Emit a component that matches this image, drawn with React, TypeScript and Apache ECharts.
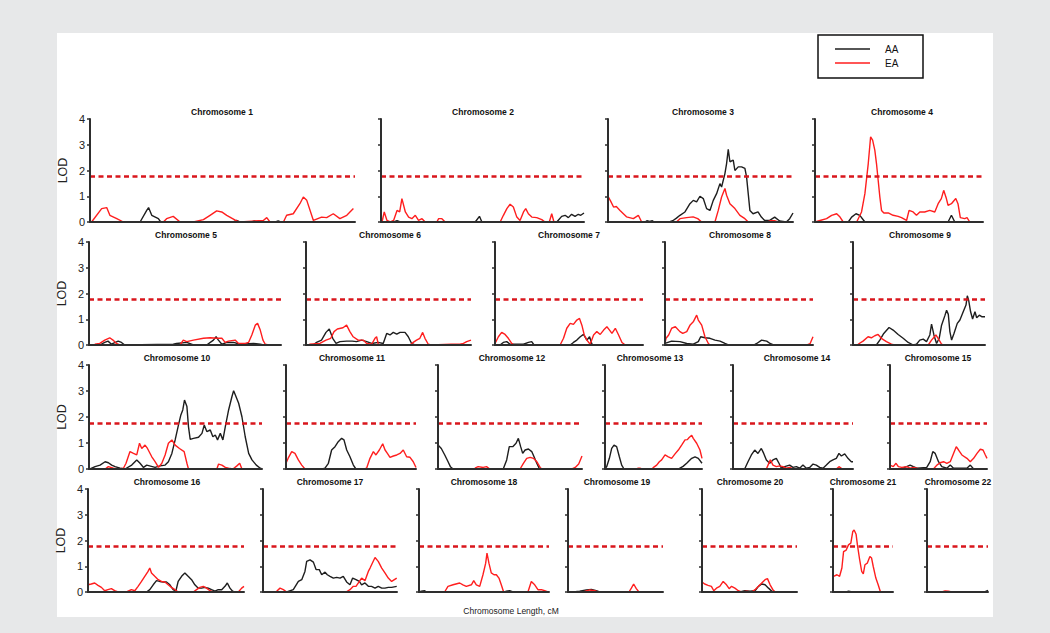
import React, { useEffect, useRef } from 'react';
import * as echarts from 'echarts';

// ---------- DATA (position along chromosome as % of its length, LOD) ----------
const CHROMOSOMES = [
  'Chromosome 1', 'Chromosome 2', 'Chromosome 3', 'Chromosome 4', 'Chromosome 5', 'Chromosome 6',
  'Chromosome 7', 'Chromosome 8', 'Chromosome 9', 'Chromosome 10', 'Chromosome 11', 'Chromosome 12',
  'Chromosome 13', 'Chromosome 14', 'Chromosome 15', 'Chromosome 16', 'Chromosome 17', 'Chromosome 18',
  'Chromosome 19', 'Chromosome 20', 'Chromosome 21', 'Chromosome 22',
];
const SERIES_NAMES = ['AA', 'EA'];
const THRESHOLD = 1.77;
const Y_TICKS = [0, 1, 2, 3, 4];
const X_LABEL = 'Chromosome Length, cM';
const Y_LABEL = 'LOD';

const chr1AA = [[18.9,0],[21.4,0.45],[22.1,0.56],[23.3,0.26],[25.8,0.13],[26.7,0],[54,0],[55.3,0.06],[56.5,0],[61,0],[62,0.04],[63,0],[70,0],[71,0.04],[72,0]];
const chr1EA = [[0.6,0],[4.4,0.52],[6.3,0.56],[7.5,0.26],[10.1,0.13],[12.6,0],[27.7,0],[28.9,0.13],[31.4,0.22],[34,0],[39,0],[42.8,0.09],[45.3,0.26],[47.8,0.43],[49.7,0.39],[51.6,0.26],[55.3,0.04],[56.6,0],[65.4,0.06],[66.7,0.17],[67.9,0],[73,0],[74.2,0.26],[76.7,0.32],[79.2,0.71],[80.5,0.97],[81.8,0.84],[84.3,0.06],[87.4,0.19],[89.3,0.17],[91.8,0.32],[94.3,0.13],[96.9,0.26],[99.4,0.52]];

const chr2AA = [[6.2,0],[7.9,0.05],[9.5,0],[46.4,0],[48.5,0.22],[49.7,0],[86.6,0],[89,0.22],[90.7,0.26],[92.3,0.17],[93.9,0.3],[95.6,0.22],[97.2,0.3],[98.4,0.26],[100,0.35]];
const chr2EA = [[0.5,0],[1.6,0.39],[2.95,0.06],[4.6,0],[6.2,0.06],[7.9,0.45],[9.2,0.39],[10.3,0.91],[12,0.39],[13.6,0.19],[15.2,0.13],[16.9,0.26],[18.5,0.06],[20.2,0.13],[21.8,0],[27.5,0],[28.4,0.13],[30,0.13],[31.6,0],[58.7,0],[60.3,0.26],[62,0.52],[63.6,0.69],[65.2,0.58],[66.9,0.19],[68.5,0.06],[70.2,0.39],[71.3,0.52],[72.6,0.32],[74.3,0.19],[76.7,0.17],[79.2,0.09],[80.8,0],[82.9,0],[84.1,0.32],[85.2,0]];

const chr3AA = [[20,0],[21,0.05],[22.5,0.02],[24,0.05],[25,0],[33,0],[35,0.05],[37,0.15],[38.9,0.26],[41.6,0.39],[44.3,0.71],[46.1,0.84],[47.9,0.78],[49.7,1.0],[51.5,0.91],[53.3,0.52],[55.1,0.45],[56.9,0.84],[58.7,1.1],[60.5,1.49],[61.4,1.36],[63.2,1.88],[64.1,2.27],[65,2.82],[65.9,2.34],[67.7,2.4],[68.6,2.0],[70.4,2.14],[72.2,2.14],[74,2.08],[74.9,1.75],[75.8,1.1],[76.7,0.45],[78.4,0.32],[81.1,0.39],[82.9,0.19],[84.7,0.06],[87.4,0.06],[90.1,0.19],[92.8,0.04],[96.4,0],[98.2,0.13],[100,0.35]];
const chr3EA = [[0,1.0],[1.5,0.8],[3,0.58],[4.5,0.6],[6.5,0.45],[10,0.2],[13.7,0.13],[16.4,0.26],[18.2,0],[37,0],[38.9,0.13],[42.5,0.17],[46,0.2],[48.5,0.13],[50.6,0],[57.8,0],[59.6,0.45],[61.4,0.97],[63.2,1.3],[64.1,1.04],[65.9,0.71],[68.6,0.52],[71.3,0.26],[74,0.13],[75.8,0],[86,0],[88,0.05],[90,0.05],[92,0]];

const chr4AA = [[19.8,0],[21.8,0.19],[24.4,0.32],[26.7,0.26],[29.7,0],[79.2,0],[81.2,0.26],[83.2,0]];
const chr4EA = [[0,0],[3,0.06],[6.9,0.13],[9.9,0.26],[12.9,0.32],[14.9,0.19],[16.8,0],[24.8,0],[27.7,0.39],[29.7,1.1],[31.7,2.27],[33.1,3.31],[34.3,3.18],[35.6,2.79],[36.6,2.27],[37.6,1.62],[38.6,0.97],[39.6,0.45],[41,0.35],[43.6,0.35],[46.5,0.26],[49.5,0.22],[51.5,0.17],[54.5,0.06],[56,0.45],[58.4,0.39],[60.4,0.26],[62.4,0.39],[65.3,0.39],[68.3,0.45],[71.3,0.39],[73.3,0.71],[75.2,0.91],[76.6,1.23],[78.2,0.91],[79.2,0.65],[81.2,0.71],[83.8,0.91],[85.1,0.71],[86.5,0.17],[89.1,0.13],[90.5,0.17],[92.1,0]];

const chr5AA = [[5.6,0],[8.2,0.1],[9.9,0.15],[11.7,0.03],[15.2,0.15],[16.9,0.1],[18.6,0],[43.9,0.03],[45.6,0.06],[50.9,0.1],[54.4,0],[61.3,0],[64.8,0.19],[66.2,0.32],[67.4,0.19],[69.2,0.03],[71.8,0.1],[75.3,0.1],[78.7,0.03],[85.7,0.06],[89.2,0.03],[91,0]];
const chr5EA = [[3,0.03],[5.6,0.06],[8.2,0.19],[10.8,0.28],[12.5,0.19],[14.3,0.06],[16,0],[47.4,0],[49.1,0.19],[50.9,0.13],[54.4,0.19],[59.6,0.26],[63.1,0.28],[66.6,0.26],[69.2,0.26],[70.9,0.1],[72.6,0.15],[76.1,0.19],[77.9,0.06],[81.4,0.06],[83.1,0.1],[84.8,0.39],[86.6,0.77],[87.8,0.84],[89.2,0.58],[90.6,0.19],[91.8,0.03],[93.6,0]];

const chr6AA = [[0,0],[4.4,0],[6.4,0.1],[9.4,0.19],[12.1,0.49],[14.1,0.62],[16.2,0.26],[18.2,0.06],[20.6,0.13],[24.6,0.15],[28,0.15],[30.6,0.13],[33.7,0.19],[36.8,0.13],[39.8,0.06],[43.8,0.1],[46.8,0.06],[48.9,0.45],[50.9,0.39],[52.9,0.49],[55,0.42],[57,0.49],[60,0.49],[62,0.32],[64,0.06],[66,0]];
const chr6EA = [[2,0.03],[8.4,0.06],[12.1,0.19],[15,0.26],[17,0.52],[19,0.62],[22.4,0.67],[24.6,0.77],[26.6,0.52],[28.6,0.32],[31.6,0.19],[34.7,0.19],[36.8,0.06],[39.8,0.03],[41.8,0.26],[42.8,0.32],[43.8,0.03],[45,0],[63,0],[65,0.1],[67,0.19],[69,0.26],[70.7,0.49],[72.1,0.26],[74.1,0.03],[76,0],[88,0.03],[93.3,0.03],[95.4,0.06],[97.4,0.13],[100,0.19]];

const chr7AA = [[3.4,0],[5.6,0.1],[7.9,0.13],[10.2,0.03],[19.2,0.03],[22.6,0.1],[24.8,0.13],[26.4,0],[50.8,0],[53,0.1],[55.3,0.19],[57.6,0.32],[59.8,0.41],[62.1,0.19],[63.9,0.32],[65.5,0.03],[66.6,0]];
const chr7EA = [[0,0.06],[2.3,0.32],[4.5,0.49],[6.8,0.41],[9,0.26],[11.3,0.06],[12.9,0],[44,0],[46.3,0.26],[48.5,0.65],[50.8,0.84],[53,0.8],[55.3,0.97],[57.1,1.03],[58.7,0.77],[60.3,0.39],[62.1,0.19],[64.3,0.03],[66.6,0.39],[68.8,0.52],[71.1,0.41],[73.4,0.58],[75.6,0.71],[77.4,0.58],[79,0.45],[81.3,0.65],[83.5,0.39],[85.8,0.1],[88,0]];

const chr8AA = [[0,0.06],[4.5,0.15],[10.1,0.13],[14.7,0.06],[19.1,0.03],[22.5,0.13],[24.1,0.32],[27,0.28],[30.4,0.26],[33.8,0.19],[37.2,0.15],[40.5,0.06],[42.8,0],[60,0],[62,0.06],[65.3,0.19],[68.7,0.15],[71,0.06],[73.2,0]];
const chr8EA = [[0,0.06],[0.7,0.26],[2.5,0.39],[4.5,0.65],[7,0.71],[10.1,0.52],[12,0.45],[14.7,0.52],[17,0.78],[19.1,0.9],[21.4,1.16],[22.5,0.97],[24.8,0.77],[27,0.32],[29.3,0.06],[30.4,0],[96,0],[98,0.05],[100,0.32]];

const chr9AA = [[17.7,0],[20.3,0.19],[23.3,0.45],[27.3,0.68],[30.4,0.58],[34.2,0.41],[38,0.26],[41.8,0.1],[45.6,0],[48.1,0.03],[50.6,0.19],[53.2,0.23],[55.7,0.13],[58.2,0.39],[59.5,0.81],[61.3,0.39],[63.3,0.06],[65.3,0.26],[67.1,0.77],[69.6,1.14],[70.9,1.35],[72.2,1.19],[73.4,0.52],[74.7,0.19],[76.5,0.45],[79,0.84],[81,0.97],[83.5,1.29],[85.6,1.55],[86.6,1.91],[87.6,1.74],[89.1,1.29],[90.6,1.01],[92.4,1.29],[93.7,1.06],[95.7,1.16],[97.5,1.1],[100,1.1]];
const chr9EA = [[3.8,0.03],[7.6,0.15],[11.4,0.32],[13.9,0.28],[16.5,0.36],[19,0.41],[21.5,0.26],[25.3,0.13],[29.1,0.03],[31.6,0],[57,0],[59.5,0.19],[62.8,0.39],[65.3,0.19],[67.1,0.03],[68.4,0]];

const chr10AA = [[0.6,0],[3.5,0.09],[6.4,0.15],[9.3,0.28],[11.2,0.24],[13.1,0.15],[15.1,0.09],[18,0.03],[20.8,0],[24.7,0.15],[27.6,0.35],[29.5,0.22],[31.5,0.06],[33.4,0.15],[38.2,0.06],[41.1,0.12],[44,0.15],[45.9,0.28],[47.9,0.6],[49.8,1.12],[51.7,1.69],[53.1,2.08],[54.2,2.27],[55.2,2.65],[56.6,2.4],[57.5,1.63],[58.5,1.14],[60.4,1.18],[63.3,1.22],[65.3,1.37],[66.6,1.69],[68.1,1.44],[70.1,1.5],[71.6,1.24],[73,1.31],[74.3,1.12],[75.9,1.37],[77.4,1.12],[78.8,1.63],[80.7,2.27],[82.6,2.78],[83.6,3.01],[84.6,2.85],[86.5,2.53],[88.4,2.01],[90.3,1.24],[92.3,0.6],[94.2,0.35],[96.7,0.15],[99,0.03],[100,0]];
const chr10EA = [[9.3,0],[11.2,0.09],[14.1,0.03],[17,0],[19.9,0.03],[21.4,0.22],[23.7,0.67],[25.7,0.6],[27.6,0.54],[29.2,0.99],[30.5,0.79],[32.4,0.92],[33.8,0.79],[36.3,0.47],[38.2,0.28],[40.2,0.06],[42.1,0.22],[44,0.54],[45.9,0.99],[47.9,1.12],[49.8,0.92],[52.3,0.79],[55,0.67],[56.6,0.22],[57.5,0],[73.9,0],[74.9,0.19],[76.8,0.15],[78.8,0.06],[80.7,0.03],[83.2,0],[85.5,0.12],[87.1,0.22],[88.4,0]];

const chr11AA = [[28,0],[30,0.03],[32.6,0.22],[35.1,0.73],[37.7,0.86],[40.2,1.05],[42.8,1.18],[44.6,1.12],[46.7,0.73],[49.2,0.47],[51.8,0.15],[53.8,0]];
const chr11EA = [[0,0.22],[2,0.45],[4.4,0.67],[6.9,0.6],[9.5,0.35],[12.1,0.15],[14.6,0],[60,0],[62,0.03],[64.6,0.41],[67.2,0.67],[69.2,0.54],[71.8,0.73],[74.4,0.97],[76.2,0.73],[78,0.6],[80,0.45],[82.6,0.5],[85.2,0.54],[87.7,0.6],[90.2,0.73],[92.8,0.47],[95.4,0.45],[97.9,0.28],[100,0.06]];

const chr12AA = [[0,0.92],[2.3,0.79],[4.7,0.54],[7,0.28],[8.6,0.09],[10.5,0],[45.3,0],[47.7,0.35],[49.5,0.86],[51.9,0.86],[54.2,0.99],[55.8,1.18],[57.4,0.86],[58.8,0.6],[60.5,0.73],[62.8,0.77],[65.1,0.67],[66.7,0.47],[68.6,0.22],[70.5,0]];
const chr12EA = [[25.6,0.03],[27.9,0.09],[31.4,0.06],[33.7,0.09],[36,0],[57,0],[59.3,0.22],[61.6,0.41],[64,0.45],[66.3,0.41],[68.6,0.28],[70.9,0.06],[72.1,0],[93,0],[95.3,0.06],[97.7,0.19],[100,0.5]];

const chr13AA = [[0,0],[1.7,0.09],[4.5,0.41],[6.9,0.79],[9.3,0.92],[12,0.86],[14.8,0.47],[17.2,0.15],[19.6,0],[76,0],[77.3,0.03],[80.5,0.1],[84.2,0.22],[89.4,0.41],[92.8,0.47],[96.2,0.41],[100,0.22]];
const chr13EA = [[32,0],[34.4,0.03],[36,0.03],[38,0],[48.1,0],[50,0.06],[53.3,0.15],[56,0.28],[58.4,0.35],[61.9,0.54],[65.3,0.47],[68.7,0.41],[72.2,0.58],[75.6,0.73],[79,0.92],[82.5,1.12],[84.9,1.13],[86.5,1.2],[89.4,1.3],[91,1.18],[94.5,0.99],[97.9,0.73],[100,0.41]];

const chr14AA = [[9.7,0],[12.5,0.28],[15.3,0.54],[18.1,0.73],[20.8,0.6],[23.6,0.79],[25.6,0.6],[27.8,0.35],[30.6,0.22],[33.3,0.35],[36.1,0.41],[38.3,0.22],[40.3,0.03],[43,0.09],[47.2,0.15],[50,0.06],[52.8,0.09],[55.6,0.03],[58.3,0.15],[61.1,0.03],[63.9,0.06],[66.7,0.19],[69.4,0.15],[72.2,0.06],[75,0.03],[77.8,0.15],[80.6,0.28],[83.3,0.35],[86.1,0.41],[88.3,0.6],[90.3,0.5],[93.1,0.58],[95.8,0.41],[98.6,0.28],[100,0.28]];
const chr14EA = [[27.8,0],[29.2,0.15],[31.1,0.35],[33.3,0.15],[36.1,0.09],[38.9,0.12],[41.7,0.09],[44.4,0.03],[47.2,0.06],[50,0],[86.1,0],[88.3,0.09],[91.1,0]];

const chr15AA = [[10.3,0],[17.2,0.09],[20.7,0.15],[24.1,0.09],[27.6,0.03],[37.9,0.06],[41.4,0.28],[44.1,0.67],[46.6,0.6],[50,0.28],[53.4,0.09],[58.6,0.03],[62.1,0.15],[65.5,0.03],[79.3,0.03],[82.8,0.15],[86.2,0]];
const chr15EA = [[0,0.15],[3.4,0.09],[6.2,0.22],[8.6,0.09],[12.1,0.06],[17.2,0.09],[20.7,0.03],[24.1,0.06],[27.6,0.03],[31,0],[44.8,0],[48.3,0.15],[51.7,0.24],[55.2,0.28],[58.6,0.22],[62.1,0.28],[65.5,0.6],[68.3,0.86],[70.7,0.73],[74.1,0.54],[79.3,0.41],[82.8,0.28],[86.2,0.41],[89.7,0.6],[93.1,0.76],[95.9,0.73],[98.3,0.54],[100,0.41]];

const chr16AA = [[37.5,0],[39.6,0.09],[41.8,0.28],[43.9,0.44],[46,0.41],[48.2,0.39],[50.3,0.39],[52.5,0.28],[54.6,0.09],[56.3,0.03],[57.8,0.41],[60,0.61],[62.1,0.74],[64.2,0.61],[66.4,0.48],[68.5,0.28],[70.7,0.15],[72.8,0.15],[75,0.18],[77.1,0.15],[79.2,0.09],[81.4,0.03],[83.5,0.09],[85.7,0.09],[87.8,0.22],[89.3,0.35],[91,0.15],[92.7,0.03],[94.2,0]];
const chr16EA = [[0,0.28],[2.1,0.31],[4.3,0.35],[6.4,0.26],[8.6,0.18],[10.7,0.05],[12.8,0.09],[15,0.13],[17.1,0.05],[19.3,0],[24.6,0],[27.8,0.09],[30,0.05],[32.1,0.22],[34.3,0.41],[36.4,0.61],[38.5,0.8],[39.6,0.93],[40.7,0.74],[42.8,0.61],[45,0.48],[47.1,0.41],[49.3,0.39],[51.4,0.28],[53.5,0.18],[55.7,0.09],[57.8,0],[67.5,0],[69.6,0.09],[71.7,0.18],[73.9,0.22],[76,0.15],[78.2,0.05],[80.3,0],[96.4,0],[98.5,0.15],[100,0.22]];

const chr17AA = [[15,0],[17.7,0],[22.6,0.09],[26.4,0.41],[28.9,0.48],[31.3,0.8],[32.6,1.19],[35.1,1.25],[37.6,1.16],[39.6,0.87],[42,0.87],[43.8,0.67],[46.3,0.77],[48,0.67],[50,0.61],[52.5,0.54],[55,0.57],[57.5,0.54],[59.9,0.61],[62.4,0.39],[64.9,0.28],[66.9,0.54],[69.4,0.48],[71.9,0.41],[73.6,0.28],[76.1,0.35],[78.6,0.22],[81,0.22],[83.6,0.15],[86,0.22],[88.6,0.15],[91,0.15],[93.5,0.18],[96,0.18],[99.8,0.22]];
const chr17EA = [[10.2,0.03],[12.7,0.15],[15.2,0.09],[17.7,0],[62,0],[64.9,0.09],[67.4,0.22],[69.4,0.22],[71.9,0.41],[73.6,0.54],[76.1,0.44],[78.6,0.8],[79.9,0.93],[83.6,1.34],[86,1.19],[88.6,0.93],[91,0.74],[93.5,0.54],[96,0.41],[99.8,0.54]];

const chr18AA = [[0.5,0],[1.8,0.03],[4.4,0.05],[5.6,0],[66,0],[67.2,0.03],[69.7,0.05],[72.3,0]];
const chr18EA = [[19.7,0],[22.3,0.22],[26.2,0.28],[31.3,0.35],[33.8,0.28],[36.4,0.22],[40.3,0.28],[42.1,0.44],[44.1,0.28],[46.7,0.22],[49.2,0.67],[51.3,1.12],[52.3,1.51],[53.8,1.12],[55.6,0.74],[57.7,0.67],[59.5,0.67],[61.5,0.54],[63.3,0.28],[65.1,0],[83.8,0],[86.4,0.41],[89,0.28],[91.5,0.09],[94.1,0.09],[96.7,0.05],[99.2,0]];

const chr19AA = [[5.3,0],[12.3,0.03],[19.3,0.08],[24.6,0.1],[29.8,0.05],[33.3,0]];
const chr19EA = [[15.8,0],[22.8,0.08],[28.1,0.05],[31.6,0],[64.2,0],[66.7,0.15],[69.1,0.31],[71.9,0.13],[74.7,0]];

const chr20AA = [[39.9,0],[45.2,0.05],[50.5,0.03],[55.8,0.05],[59.4,0.22],[62.9,0.31],[66.4,0.28],[70,0.15],[73.5,0.03],[77,0]];
const chr20EA = [[0,0.39],[2.8,0.31],[6.4,0.26],[9.9,0.22],[12.4,0.05],[15.2,0.15],[18.7,0.22],[22.3,0.41],[25.8,0.28],[28.6,0.13],[31.1,0.22],[34.6,0.15],[38.2,0.05],[41.7,0],[47,0.03],[52.3,0],[55.8,0.09],[59.4,0.22],[62.9,0.35],[66.4,0.48],[68.9,0.52],[71.7,0.28],[74.6,0.09],[77,0]];

const chr21AA = [[22,0],[26,0.03],[32,0]];
const chr21EA = [[0,0.55],[1.1,0.61],[6.6,0.67],[11,0.61],[14.8,0.93],[17.6,1.57],[22,1.63],[25.8,1.83],[29.7,1.9],[33,2.35],[35.2,2.41],[38.5,2.24],[40.7,1.83],[44,1.32],[47.8,0.8],[50.5,0.7],[53.3,1.06],[57.1,1.12],[61.5,1.38],[64.3,1.32],[67,1.0],[71.4,0.54],[75.3,0.28],[79.1,0]];

const chr22AA = [[94.6,0],[100,0.06]];
const chr22EA = [[24.3,0],[29.7,0.04],[35.1,0.03],[40.5,0]];

const AA_DATA = [chr1AA, chr2AA, chr3AA, chr4AA, chr5AA, chr6AA, chr7AA, chr8AA, chr9AA, chr10AA, chr11AA,
  chr12AA, chr13AA, chr14AA, chr15AA, chr16AA, chr17AA, chr18AA, chr19AA, chr20AA, chr21AA, chr22AA];
const EA_DATA = [chr1EA, chr2EA, chr3EA, chr4EA, chr5EA, chr6EA, chr7EA, chr8EA, chr9EA, chr10EA, chr11EA,
  chr12EA, chr13EA, chr14EA, chr15EA, chr16EA, chr17EA, chr18EA, chr19EA, chr20EA, chr21EA, chr22EA];

// ---------- LAYOUT ----------
const ROW_OF = [0,0,0,0,1,1,1,1,1,2,2,2,2,2,2,3,3,3,3,3,3,3];
const FIRST_IN_ROW = [0, 4, 9, 15];
const ROW_TOP = [119, 242, 365, 489];
const ROW_H = [103, 103, 104, 103];
const TITLE_Y = [112, 235, 358, 482];
const PANEL_X = [
  [90,355],[381,584],[608,793],[815,983],
  [89,281],[306,471],[495,643],[665,813],[853,985],
  [89,262],[286,416],[438,582],[605,702],[733,853],[890,987],
  [88,244],[263,397],[419,549],[568,663],[702,797],[833,893],[927,988],
];
const TITLE_X = [222,483,703,902,186,390,569,740,920,177,352,512,650,797,938,167,330,484,617,750,863,958];

const AXIS_COLOR = '#2e2e2e';
const AA_COLOR = '#1e1e1e';
const EA_COLOR = '#ff1e1e';
const DASH_COLOR = '#d9161c';
const FONT = 'Arial, "Liberation Sans", Helvetica, sans-serif';

export default function App() {
  const ref = useRef<HTMLDivElement>(null);
  useEffect(() => {
    if (!ref.current) return;
    const chart = echarts.init(ref.current, undefined, { renderer: 'svg' });
    const grid: any[] = [];
    const xAxis: any[] = [];
    const yAxis: any[] = [];
    const series: any[] = [];
    const graphic: any[] = [
      { type: 'rect', z: -10, shape: { x: 57, y: 33, width: 936, height: 584 }, style: { fill: '#ffffff' } },
    ];
    CHROMOSOMES.forEach((name, i) => {
      const r = ROW_OF[i];
      const first = FIRST_IN_ROW.includes(i);
      const [x0, x1] = PANEL_X[i];
      grid.push({ left: x0, top: ROW_TOP[r], width: x1 - x0, height: ROW_H[r], containLabel: false });
      xAxis.push({
        gridIndex: i, type: 'value', min: 0, max: 100, z: 10,
        axisLine: { show: true, onZero: false, lineStyle: { color: AXIS_COLOR, width: 2 } },
        axisTick: { show: false }, axisLabel: { show: false }, splitLine: { show: false },
      });
      yAxis.push({
        gridIndex: i, type: 'value', min: Y_TICKS[0], max: Y_TICKS[Y_TICKS.length - 1], interval: 1, z: 10,
        axisLine: { show: true, lineStyle: { color: AXIS_COLOR, width: 2 } },
        axisTick: { show: true, length: 3, lineStyle: { color: AXIS_COLOR, width: 1.5 } },
        axisLabel: { show: first, fontSize: 11, color: '#222', margin: 5, fontFamily: FONT },
        splitLine: { show: false },
        name: first ? Y_LABEL : '', nameLocation: 'middle', nameGap: 21,
        nameTextStyle: { fontSize: 12.5, color: '#222', fontFamily: FONT },
      });
      series.push({
        name: SERIES_NAMES[0], type: 'line', xAxisIndex: i, yAxisIndex: i, data: AA_DATA[i],
        showSymbol: false, symbol: 'none', lineStyle: { color: AA_COLOR, width: 1.4 }, itemStyle: { color: AA_COLOR },
      });
      series.push({
        name: SERIES_NAMES[1], type: 'line', xAxisIndex: i, yAxisIndex: i, data: EA_DATA[i],
        showSymbol: false, symbol: 'none', lineStyle: { color: EA_COLOR, width: 1.4 }, itemStyle: { color: EA_COLOR },
        markLine: {
          silent: true, symbol: ['none', 'none'], label: { show: false },
          lineStyle: { color: DASH_COLOR, type: [5, 3.5], width: 2.5 },
          data: [{ yAxis: THRESHOLD }],
        },
      });
      graphic.push({
        type: 'text', x: TITLE_X[i], y: TITLE_Y[r], z: 20,
        style: { text: name, align: 'center', verticalAlign: 'middle', fontSize: 8.5, fontWeight: 'bold', fontFamily: FONT, fill: '#111' },
      });
    });
    graphic.push(
      { type: 'rect', z: 20, shape: { x: 818, y: 35, width: 105, height: 43 }, style: { fill: '#fff', stroke: '#111', lineWidth: 1.5 } },
      { type: 'line', z: 21, shape: { x1: 835, y1: 49, x2: 870, y2: 49 }, style: { stroke: AA_COLOR, lineWidth: 1.5 } },
      { type: 'line', z: 21, shape: { x1: 835, y1: 63, x2: 870, y2: 63 }, style: { stroke: EA_COLOR, lineWidth: 1.5 } },
      { type: 'text', z: 21, x: 885, y: 49, style: { text: SERIES_NAMES[0], align: 'left', verticalAlign: 'middle', fontSize: 10, fontFamily: FONT, fill: '#111' } },
      { type: 'text', z: 21, x: 885, y: 63, style: { text: SERIES_NAMES[1], align: 'left', verticalAlign: 'middle', fontSize: 10, fontFamily: FONT, fill: '#111' } },
      { type: 'text', z: 21, x: 511, y: 611, style: { text: X_LABEL, align: 'center', verticalAlign: 'middle', fontSize: 8.5, fontFamily: FONT, fill: '#222' } },
    );
    chart.setOption({
      animation: false,
      backgroundColor: '#e7e8e9',
      grid, xAxis, yAxis, series, graphic,
    });
    return () => chart.dispose();
  }, []);
  return <div ref={ref} style={{ position: 'fixed', left: 0, top: 0, width: 1050, height: 633 }} />;
}
